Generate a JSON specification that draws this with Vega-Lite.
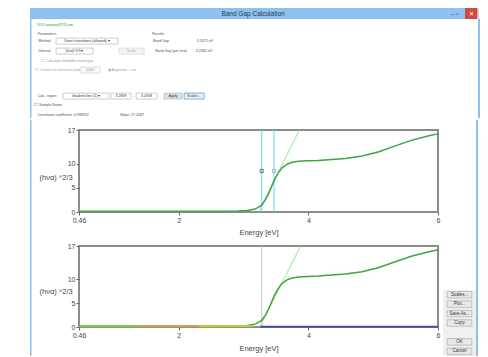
{
  "$schema": "https://vega.github.io/schema/vega-lite/v6.json",
  "background": "white",
  "padding": {"left": 30, "top": 8, "right": 0, "bottom": 0},
  "spacing": 0,
  "resolve": {"scale": {"color": "independent"}},
  "config": {
    "font": "Liberation Sans",
    "view": {"fill": "#f0f0f0", "stroke": null},
    "text": {"fontSize": 3.6, "color": "#505050"},
    "axis": {"labelFontSize": 7, "labelColor": "#444444", "titleFontSize": 7.5, "titleFontWeight": "normal", "titleColor": "#444444", "grid": false, "domain": false, "tickColor": "#666666", "tickSize": 3, "labelPadding": 1}
  },
  "datasets": {
    "curve": [
      {"E": 0.46, "v": 0.15}, {"E": 1.0, "v": 0.15}, {"E": 1.5, "v": 0.15}, {"E": 2.0, "v": 0.15},
      {"E": 2.5, "v": 0.17}, {"E": 2.9, "v": 0.2}, {"E": 3.05, "v": 0.3}, {"E": 3.18, "v": 0.6},
      {"E": 3.28, "v": 1.4}, {"E": 3.34, "v": 2.6}, {"E": 3.39, "v": 3.9}, {"E": 3.43, "v": 5.2},
      {"E": 3.47, "v": 6.5}, {"E": 3.53, "v": 8.0}, {"E": 3.59, "v": 9.1}, {"E": 3.67, "v": 9.9},
      {"E": 3.75, "v": 10.3}, {"E": 3.85, "v": 10.5}, {"E": 3.98, "v": 10.6}, {"E": 4.15, "v": 10.7},
      {"E": 4.31, "v": 10.85}, {"E": 4.57, "v": 11.1}, {"E": 4.83, "v": 11.6}, {"E": 5.09, "v": 12.5},
      {"E": 5.34, "v": 13.7}, {"E": 5.6, "v": 14.9}, {"E": 5.86, "v": 15.8}, {"E": 6.0, "v": 16.2}
    ],
    "tangent1": [{"E": 3.23, "v": 0}, {"E": 3.86, "v": 17}],
    "tangent2": [{"E": 3.25, "v": 0}, {"E": 3.88, "v": 17}],
    "region": [{"E": 3.28}, {"E": 3.47}],
    "markers": [{"E": 3.28, "v": 8.5, "k": "start"}, {"E": 3.47, "v": 8.5, "k": "end"}],
    "edge": [{"E": 3.28}],
    "segments": [
      {"E": 0.46, "v": 0.15, "s": "a"}, {"E": 1.38, "v": 0.15, "s": "a"},
      {"E": 1.38, "v": 0.15, "s": "b"}, {"E": 2.31, "v": 0.15, "s": "b"},
      {"E": 2.31, "v": 0.15, "s": "c"}, {"E": 3.15, "v": 0.2, "s": "c"},
      {"E": 3.26, "v": 0.05, "s": "d"}, {"E": 6.0, "v": 0.05, "s": "d"}
    ],
    "buttons": [{"b": "Scales..."}, {"b": "Plot..."}, {"b": "Save As..."}, {"b": "Copy"}, {"b": "OK"}, {"b": "Cancel"}]
  },
  "vconcat": [
    {
      "hconcat": [
        {"width": 414, "height": 11, "view": {"fill": "#8fc1ee"}, "data": {"values": [{"t": "Band Gap Calculation"}]}, "mark": {"type": "text", "fontSize": 6.5, "color": "#2a3a4a", "dx": 16}, "encoding": {"text": {"field": "t"}}},
        {"width": 21, "height": 11, "view": {"fill": "#8fc1ee"}, "data": {"values": [{"t": "–    ▫"}]}, "mark": {"type": "text", "fontSize": 6, "color": "#333333"}, "encoding": {"text": {"field": "t"}}},
        {"width": 12.5, "height": 11, "view": {"fill": "#cf4a3f"}, "data": {"values": [{"t": "✕"}]}, "mark": {"type": "text", "fontSize": 6, "color": "white"}, "encoding": {"text": {"field": "t"}}},
        {"width": 0.5, "height": 11, "view": {"fill": "#8fc1ee"}, "mark": {"type": "rule", "opacity": 0, "strokeWidth": 0}, "encoding": {}}
      ],
      "spacing": 0, "bounds": "flush"
    },
    {
      "hconcat": [
        {"width": 1.5, "height": 99, "view": {"fill": "#8fc1ee"}, "mark": {"type": "rule", "opacity": 0, "strokeWidth": 0}, "encoding": {}},
        {
          "vconcat": [
            {"hconcat": [
              {"width": 1.5, "height": 11, "mark": {"type": "rule", "opacity": 0, "strokeWidth": 0}, "encoding": {}},
              {"width": 42, "height": 11, "data": {"values": [{"t": "TiO2 anatase(P25).am"}]}, "mark": {"type": "text", "color": "#22a022"}, "encoding": {"text": {"field": "t"}}},
              {"width": 401, "height": 11, "mark": {"type": "rule", "opacity": 0, "strokeWidth": 0}, "encoding": {}}
            ], "spacing": 0, "bounds": "flush"},
            {"hconcat": [
              {"width": 4, "height": 7, "mark": {"type": "rule", "opacity": 0, "strokeWidth": 0}, "encoding": {}},
              {"width": 22, "height": 7, "data": {"values": [{"t": "Parameters"}]}, "mark": "text", "encoding": {"text": {"field": "t"}}},
              {"width": 92, "height": 7, "mark": {"type": "rule", "opacity": 0, "strokeWidth": 0}, "encoding": {}},
              {"width": 16, "height": 7, "data": {"values": [{"t": "Results"}]}, "mark": "text", "encoding": {"text": {"field": "t"}}},
              {"width": 310.5, "height": 7, "mark": {"type": "rule", "opacity": 0, "strokeWidth": 0}, "encoding": {}}
            ], "spacing": 0, "bounds": "flush"},
            {"hconcat": [
              {"width": 6, "height": 6, "mark": {"type": "rule", "opacity": 0, "strokeWidth": 0}, "encoding": {}},
              {"width": 13, "height": 6, "data": {"values": [{"t": "Method"}]}, "mark": "text", "encoding": {"text": {"field": "t"}}},
              {"width": 4.5, "height": 6, "mark": {"type": "rule", "opacity": 0, "strokeWidth": 0}, "encoding": {}},
              {"width": 62, "height": 6, "view": {"fill": "white", "stroke": "#abadb3", "strokeWidth": 0.6}, "data": {"values": [{"t": "Direct transitions (allowed)      ▾"}]}, "mark": {"type": "text", "color": "#333333"}, "encoding": {"text": {"field": "t"}}},
              {"width": 33.5, "height": 6, "mark": {"type": "rule", "opacity": 0, "strokeWidth": 0}, "encoding": {}},
              {"width": 18, "height": 6, "data": {"values": [{"t": "Band Gap"}]}, "mark": "text", "encoding": {"text": {"field": "t"}}},
              {"width": 25, "height": 6, "mark": {"type": "rule", "opacity": 0, "strokeWidth": 0}, "encoding": {}},
              {"width": 20, "height": 6, "data": {"values": [{"t": "3.2671 eV"}]}, "mark": "text", "encoding": {"text": {"field": "t"}}},
              {"width": 262.5, "height": 6, "mark": {"type": "rule", "opacity": 0, "strokeWidth": 0}, "encoding": {}}
            ], "spacing": 0, "bounds": "flush"},
            {"width": 444.5, "height": 1.5, "mark": {"type": "rule", "opacity": 0, "strokeWidth": 0}, "encoding": {}},
            {"hconcat": [
              {"width": 6, "height": 6, "mark": {"type": "rule", "opacity": 0, "strokeWidth": 0}, "encoding": {}},
              {"width": 13, "height": 6, "data": {"values": [{"t": "Interval"}]}, "mark": "text", "encoding": {"text": {"field": "t"}}},
              {"width": 4.5, "height": 6, "mark": {"type": "rule", "opacity": 0, "strokeWidth": 0}, "encoding": {}},
              {"width": 37, "height": 6, "view": {"fill": "white", "stroke": "#abadb3", "strokeWidth": 0.6}, "data": {"values": [{"t": "(hνα)^2/3     ▾"}]}, "mark": {"type": "text", "color": "#333333"}, "encoding": {"text": {"field": "t"}}},
              {"width": 26, "height": 6, "mark": {"type": "rule", "opacity": 0, "strokeWidth": 0}, "encoding": {}},
              {"width": 25, "height": 6, "view": {"fill": "#f4f4f4", "stroke": "#d0d0d0", "strokeWidth": 0.6}, "data": {"values": [{"t": "Scale"}]}, "mark": {"type": "text", "color": "#a8a8a8"}, "encoding": {"text": {"field": "t"}}},
              {"width": 9, "height": 6, "mark": {"type": "rule", "opacity": 0, "strokeWidth": 0}, "encoding": {}},
              {"width": 36, "height": 6, "data": {"values": [{"t": "Band Gap (per hνα)"}]}, "mark": "text", "encoding": {"text": {"field": "t"}}},
              {"width": 5, "height": 6, "mark": {"type": "rule", "opacity": 0, "strokeWidth": 0}, "encoding": {}},
              {"width": 20, "height": 6, "data": {"values": [{"t": "3.2380 eV"}]}, "mark": "text", "encoding": {"text": {"field": "t"}}},
              {"width": 263, "height": 6, "mark": {"type": "rule", "opacity": 0, "strokeWidth": 0}, "encoding": {}}
            ], "spacing": 0, "bounds": "flush"},
            {"width": 444.5, "height": 1.5, "mark": {"type": "rule", "opacity": 0, "strokeWidth": 0}, "encoding": {}},
            {"hconcat": [
              {"width": 6, "height": 7, "mark": {"type": "rule", "opacity": 0, "strokeWidth": 0}, "encoding": {}},
              {"width": 58, "height": 7, "data": {"values": [{"t": "☐ Calculate forbidden band gap"}]}, "mark": {"type": "text", "color": "#a0a0a0"}, "encoding": {"text": {"field": "t"}}},
              {"width": 380.5, "height": 7, "mark": {"type": "rule", "opacity": 0, "strokeWidth": 0}, "encoding": {}}
            ], "spacing": 0, "bounds": "flush"},
            {"width": 444.5, "height": 2, "mark": {"type": "rule", "opacity": 0, "strokeWidth": 0}, "encoding": {}},
            {"hconcat": [
              {"width": 6, "height": 6, "mark": {"type": "rule", "opacity": 0, "strokeWidth": 0}, "encoding": {}},
              {"width": 40, "height": 6, "data": {"values": [{"t": "☐ Correct for thickness [nm]"}]}, "mark": {"type": "text", "color": "#a0a0a0"}, "encoding": {"text": {"field": "t"}}},
              {"width": 2, "height": 6, "mark": {"type": "rule", "opacity": 0, "strokeWidth": 0}, "encoding": {}},
              {"width": 20, "height": 6, "view": {"fill": "#f7f7f7", "stroke": "#cccccc", "strokeWidth": 0.6}, "data": {"values": [{"t": "1000"}]}, "mark": {"type": "text", "color": "#a0a0a0"}, "encoding": {"text": {"field": "t"}}},
              {"width": 6, "height": 6, "mark": {"type": "rule", "opacity": 0, "strokeWidth": 0}, "encoding": {}},
              {"width": 32, "height": 6, "data": {"values": [{"t": "◉ Angstrom    ○ nm"}]}, "mark": {"type": "text", "color": "#a0a0a0"}, "encoding": {"text": {"field": "t"}}},
              {"width": 338.5, "height": 6, "mark": {"type": "rule", "opacity": 0, "strokeWidth": 0}, "encoding": {}}
            ], "spacing": 0, "bounds": "flush"},
            {"width": 444.5, "height": 18, "mark": {"type": "rule", "opacity": 0, "strokeWidth": 0}, "encoding": {}},
            {"hconcat": [
              {"width": 3.5, "height": 6, "mark": {"type": "rule", "opacity": 0, "strokeWidth": 0}, "encoding": {}},
              {"width": 22, "height": 6, "data": {"values": [{"t": "Calc. region"}]}, "mark": "text", "encoding": {"text": {"field": "t"}}},
              {"width": 4.5, "height": 6, "mark": {"type": "rule", "opacity": 0, "strokeWidth": 0}, "encoding": {}},
              {"width": 46, "height": 6, "view": {"fill": "white", "stroke": "#abadb3", "strokeWidth": 0.6}, "data": {"values": [{"t": "Gradient line (1)      ▾"}]}, "mark": {"type": "text", "color": "#333333"}, "encoding": {"text": {"field": "t"}}},
              {"width": 2, "height": 6, "mark": {"type": "rule", "opacity": 0, "strokeWidth": 0}, "encoding": {}},
              {"width": 20, "height": 6, "view": {"fill": "white", "stroke": "#abadb3", "strokeWidth": 0.6}, "data": {"values": [{"t": "3.2839"}]}, "mark": {"type": "text", "color": "#333333"}, "encoding": {"text": {"field": "t"}}},
              {"width": 5, "height": 6, "data": {"values": [{"t": "-"}]}, "mark": "text", "encoding": {"text": {"field": "t"}}},
              {"width": 21, "height": 6, "view": {"fill": "white", "stroke": "#abadb3", "strokeWidth": 0.6}, "data": {"values": [{"t": "3.4708"}]}, "mark": {"type": "text", "color": "#333333"}, "encoding": {"text": {"field": "t"}}},
              {"width": 6.5, "height": 6, "mark": {"type": "rule", "opacity": 0, "strokeWidth": 0}, "encoding": {}},
              {"width": 18, "height": 6, "view": {"fill": "#e1e1e1", "stroke": "#adadad", "strokeWidth": 0.6}, "data": {"values": [{"t": "Apply"}]}, "mark": {"type": "text", "color": "#333333"}, "encoding": {"text": {"field": "t"}}},
              {"width": 2, "height": 6, "mark": {"type": "rule", "opacity": 0, "strokeWidth": 0}, "encoding": {}},
              {"width": 20, "height": 6, "view": {"fill": "#e5f1fb", "stroke": "#3c7fb1", "strokeWidth": 0.6}, "data": {"values": [{"t": "Scales..."}]}, "mark": {"type": "text", "color": "#333333"}, "encoding": {"text": {"field": "t"}}},
              {"width": 274, "height": 6, "mark": {"type": "rule", "opacity": 0, "strokeWidth": 0}, "encoding": {}}
            ], "spacing": 0, "bounds": "flush"},
            {"hconcat": [
              {"width": 3.5, "height": 10, "mark": {"type": "rule", "opacity": 0, "strokeWidth": 0}, "encoding": {}},
              {"width": 24, "height": 10, "data": {"values": [{"t": "☐ Sample Name"}]}, "mark": "text", "encoding": {"text": {"field": "t"}}},
              {"width": 417, "height": 10, "mark": {"type": "rule", "opacity": 0, "strokeWidth": 0}, "encoding": {}}
            ], "spacing": 0, "bounds": "flush"},
            {"hconcat": [
              {"width": 3.5, "height": 10, "mark": {"type": "rule", "opacity": 0, "strokeWidth": 0}, "encoding": {}},
              {"width": 54, "height": 10, "data": {"values": [{"t": "Correlation coefficient: 0.998952"}]}, "mark": "text", "encoding": {"text": {"field": "t"}}},
              {"width": 29.5, "height": 10, "mark": {"type": "rule", "opacity": 0, "strokeWidth": 0}, "encoding": {}},
              {"width": 24, "height": 10, "data": {"values": [{"t": "Slope: 27.4587"}]}, "mark": "text", "encoding": {"text": {"field": "t"}}},
              {"width": 333.5, "height": 10, "mark": {"type": "rule", "opacity": 0, "strokeWidth": 0}, "encoding": {}}
            ], "spacing": 0, "bounds": "flush"}
          ],
          "spacing": 0
        },
        {"width": 2, "height": 99, "view": {"fill": "#8fc1ee"}, "mark": {"type": "rule", "opacity": 0, "strokeWidth": 0}, "encoding": {}}
      ],
      "spacing": 0
    },
    {
      "hconcat": [
        {"width": 1.5, "height": 236, "view": {"fill": "#8fc1ee"}, "mark": {"type": "rule", "opacity": 0, "strokeWidth": 0}, "encoding": {}},
        {"width": 6, "height": 236, "view": {"fill": "white"}, "mark": {"type": "rule", "opacity": 0, "strokeWidth": 0}, "encoding": {}},
        {
          "vconcat": [
            {"width": 1, "height": 0.5, "view": {"fill": null}, "mark": {"type": "rule", "opacity": 0, "strokeWidth": 0}, "encoding": {}},
            {
              "width": 359, "height": 82,
              "view": {"stroke": "#8c8c8c", "strokeWidth": 2, "fill": "white"},
              "encoding": {
                "x": {"field": "E", "type": "quantitative", "scale": {"domain": [0.46, 6], "nice": false, "zero": false},
                      "axis": {"values": [0.46, 2, 4, 6], "format": ".2~f", "title": "Energy [eV]", "titlePadding": 5.5, "labelFlush": false}},
                "y": {"field": "v", "type": "quantitative", "scale": {"domain": [0, 17], "nice": false},
                      "axis": {"values": [0, 5, 10, 17], "title": "(hνα) ^2/3", "titleAngle": 0, "titleAlign": "left", "titleBaseline": "middle", "titleX": -40, "titleY": 47}}
              },
              "layer": [
                {"data": {"name": "region"}, "mark": {"type": "rule", "color": "#5fd7ee", "strokeWidth": 1}, "encoding": {"y": null}},
                {"data": {"name": "tangent1"}, "mark": {"type": "line", "color": "#8eea8e", "strokeWidth": 1, "clip": true}},
                {"data": {"name": "curve"}, "mark": {"type": "line", "color": "#3fa53f", "strokeWidth": 1.5}},
                {"data": {"name": "markers"}, "mark": {"type": "point", "shape": "square", "size": 10, "filled": false, "strokeWidth": 1},
                 "encoding": {"color": {"field": "k", "type": "nominal", "scale": {"domain": ["start", "end"], "range": ["#444444", "#999999"]}, "legend": null}}}
              ]
            },
            {
              "width": 359, "height": 81,
              "view": {"stroke": "#8c8c8c", "strokeWidth": 2, "fill": "white"},
              "encoding": {
                "x": {"field": "E", "type": "quantitative", "scale": {"domain": [0.46, 6], "nice": false, "zero": false},
                      "axis": {"values": [0.46, 2, 4, 6], "format": ".2~f", "title": "Energy [eV]", "titlePadding": 6, "labelFlush": false}},
                "y": {"field": "v", "type": "quantitative", "scale": {"domain": [0, 17], "nice": false},
                      "axis": {"values": [0, 5, 10, 17], "title": "(hνα) ^2/3", "titleAngle": 0, "titleAlign": "left", "titleBaseline": "middle", "titleX": -40, "titleY": 45}}
              },
              "layer": [
                {"data": {"name": "edge"}, "mark": {"type": "rule", "color": "#c8c8c8", "strokeWidth": 1}, "encoding": {"y": null}},
                {"data": {"name": "tangent2"}, "mark": {"type": "line", "color": "#8eea8e", "strokeWidth": 1, "clip": true}},
                {"data": {"name": "curve"}, "mark": {"type": "line", "color": "#3fa53f", "strokeWidth": 1.5}},
                {"data": {"name": "segments"}, "mark": {"type": "line", "strokeWidth": 2},
                 "encoding": {"color": {"field": "s", "type": "nominal", "scale": {"domain": ["a", "b", "c", "d"], "range": ["#7cc940", "#d49a55", "#b8cf2e", "#4c4ca6"]}, "legend": null}, "detail": {"field": "s"}}}
              ]
            }
          ],
          "spacing": 4,
          "resolve": {"scale": {"color": "independent"}}
        },
        {
          "vconcat": [
            {"width": 33, "height": 170, "mark": {"type": "rule", "opacity": 0, "strokeWidth": 0}, "encoding": {}},
            {
              "width": 33, "height": 66,
              "data": {"name": "buttons"},
              "encoding": {
                "y": {"field": "b", "type": "nominal", "sort": null, "axis": null,
                      "scale": {"domain": ["Scales...", "Plot...", "Save As...", "Copy", " ", "OK", "Cancel"]}}
              },
              "layer": [
                {"mark": {"type": "point", "shape": "M-1.9,-0.5H1.9V0.5H-1.9Z", "size": 169, "filled": true, "fill": "#e8e8e8", "stroke": "#adadad", "strokeWidth": 0.7, "opacity": 1}},
                {"mark": {"type": "text", "fontSize": 4.5, "color": "#333333"}, "encoding": {"text": {"field": "b"}}}
              ]
            }
          ],
          "spacing": 0, "bounds": "flush"
        },
        {"width": 2, "height": 236, "view": {"fill": "#8fc1ee"}, "mark": {"type": "rule", "opacity": 0, "strokeWidth": 0}, "encoding": {}}
      ],
      "spacing": 0,
      "resolve": {"scale": {"color": "independent"}}
    },
    {"width": 448, "height": 3, "mark": {"type": "rule", "opacity": 0, "strokeWidth": 0}, "encoding": {}}
  ]
}
